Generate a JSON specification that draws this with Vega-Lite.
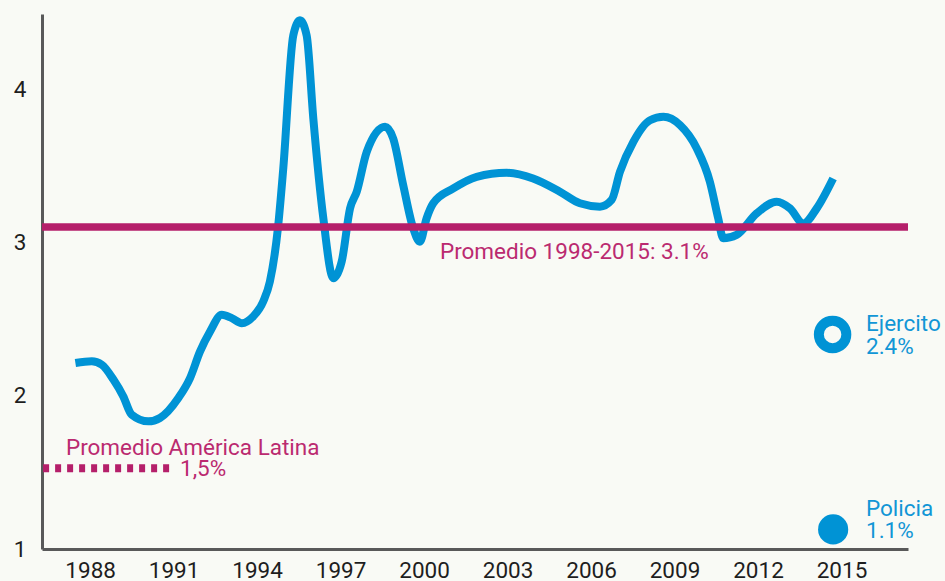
{
  "$schema": "https://vega.github.io/schema/vega-lite/v6.json",
  "width": 866,
  "height": 535,
  "autosize": {"type": "none"},
  "padding": {"left": 42, "top": 14, "right": 37, "bottom": 32},
  "background": "#f9faf5",
  "config": {
    "view": {"stroke": null},
    "font": "Roboto",
    "axis": {
      "domainColor": "#595959",
      "domainWidth": 3,
      "ticks": false,
      "grid": false,
      "labelFont": "Roboto",
      "labelFontSize": 22.5,
      "labelColor": "#1e1e1e",
      "title": null
    }
  },
  "datasets": {
    "serie": [
      {"anio": 1987.47, "valor": 2.213},
      {"anio": 1988.06, "valor": 2.224},
      {"anio": 1988.42, "valor": 2.202},
      {"anio": 1988.83, "valor": 2.107},
      {"anio": 1989.19, "valor": 1.996},
      {"anio": 1989.49, "valor": 1.877},
      {"anio": 1990.09, "valor": 1.833},
      {"anio": 1990.51, "valor": 1.855},
      {"anio": 1991.17, "valor": 1.985},
      {"anio": 1991.59, "valor": 2.115},
      {"anio": 1991.95, "valor": 2.289},
      {"anio": 1992.31, "valor": 2.419},
      {"anio": 1992.73, "valor": 2.528},
      {"anio": 1993.09, "valor": 2.506},
      {"anio": 1993.45, "valor": 2.473},
      {"anio": 1993.86, "valor": 2.517},
      {"anio": 1994.22, "valor": 2.615},
      {"anio": 1994.46, "valor": 2.745},
      {"anio": 1994.75, "valor": 3.096},
      {"anio": 1994.94, "valor": 3.482},
      {"anio": 1995.3, "valor": 4.351},
      {"anio": 1995.54, "valor": 4.449},
      {"anio": 1995.78, "valor": 4.351},
      {"anio": 1996.02, "valor": 3.808},
      {"anio": 1996.38, "valor": 3.157},
      {"anio": 1996.74, "valor": 2.766},
      {"anio": 1997.04, "valor": 2.875},
      {"anio": 1997.34, "valor": 3.222},
      {"anio": 1997.58, "valor": 3.331},
      {"anio": 1997.94, "valor": 3.591},
      {"anio": 1998.6, "valor": 3.754},
      {"anio": 1998.89, "valor": 3.678},
      {"anio": 1999.25, "valor": 3.374},
      {"anio": 1999.61, "valor": 3.092},
      {"anio": 1999.85, "valor": 3.005},
      {"anio": 2000.09, "valor": 3.157},
      {"anio": 2000.33, "valor": 3.255},
      {"anio": 2001.05, "valor": 3.352},
      {"anio": 2001.89, "valor": 3.428},
      {"anio": 2002.97, "valor": 3.454},
      {"anio": 2003.92, "valor": 3.417},
      {"anio": 2004.88, "valor": 3.331},
      {"anio": 2005.6, "valor": 3.255},
      {"anio": 2006.32, "valor": 3.233},
      {"anio": 2006.74, "valor": 3.277},
      {"anio": 2007.04, "valor": 3.461},
      {"anio": 2007.52, "valor": 3.656},
      {"anio": 2008.12, "valor": 3.797},
      {"anio": 2008.6, "valor": 3.819},
      {"anio": 2009.2, "valor": 3.765},
      {"anio": 2009.8, "valor": 3.613},
      {"anio": 2010.27, "valor": 3.396},
      {"anio": 2010.57, "valor": 3.157},
      {"anio": 2010.75, "valor": 3.027},
      {"anio": 2011.23, "valor": 3.049},
      {"anio": 2011.95, "valor": 3.189},
      {"anio": 2012.67, "valor": 3.266},
      {"anio": 2013.15, "valor": 3.222},
      {"anio": 2013.63, "valor": 3.124},
      {"anio": 2014.11, "valor": 3.222},
      {"anio": 2014.7, "valor": 3.417}
    ],
    "promedio": [
      {"anio": 1986.27, "anio_fin": 2017.39, "valor": 3.1}
    ],
    "latam": [
      {"anio": 1986.31, "anio_fin": 1990.98, "valor": 1.527}
    ],
    "notas_magenta": [
      {"anio": 2000.57, "valor": 2.894, "texto": "Promedio 1998-2015: 3.1%"},
      {"anio": 1987.13, "valor": 1.612, "texto": "Promedio América Latina"},
      {"anio": 1991.23, "valor": 1.475, "texto": "1,5%"}
    ],
    "notas_azul": [
      {"anio": 2015.88, "valor": 2.419, "texto": "Ejercito"},
      {"anio": 2015.88, "valor": 2.271, "texto": "2.4%"},
      {"anio": 2015.88, "valor": 1.215, "texto": "Policia"},
      {"anio": 2015.88, "valor": 1.072, "texto": "1.1%"}
    ],
    "ejercito": [{"anio": 2014.68, "valor": 2.4}],
    "policia": [{"anio": 2014.7, "valor": 1.128}]
  },
  "encoding": {
    "x": {
      "field": "anio",
      "type": "quantitative",
      "scale": {"domain": [1986.27, 2017.39], "nice": false, "zero": false},
      "axis": {"values": [1988, 1991, 1994, 1997, 2000, 2003, 2006, 2009, 2012, 2015], "format": "d", "labelPadding": 10}
    },
    "y": {
      "field": "valor",
      "type": "quantitative",
      "scale": {"domain": [1, 4.49], "nice": false, "zero": false},
      "axis": {"values": [1, 2, 3, 4], "labelPadding": 16}
    }
  },
  "layer": [
    {
      "data": {"name": "serie"},
      "mark": {"type": "line", "color": "#0093d5", "strokeWidth": 8, "interpolate": "monotone"}
    },
    {
      "data": {"name": "promedio"},
      "mark": {"type": "rule", "color": "#b51f6a", "strokeWidth": 7.5},
      "encoding": {"x2": {"field": "anio_fin"}}
    },
    {
      "data": {"name": "latam"},
      "mark": {"type": "rule", "color": "#b51f6a", "strokeWidth": 8, "strokeDash": [6, 6]},
      "encoding": {"x2": {"field": "anio_fin"}}
    },
    {
      "data": {"name": "notas_magenta"},
      "mark": {"type": "text", "align": "left", "baseline": "alphabetic", "font": "Roboto", "fontSize": 22.5, "color": "#bb2a70"},
      "encoding": {"text": {"field": "texto"}}
    },
    {
      "data": {"name": "notas_azul"},
      "mark": {"type": "text", "align": "left", "baseline": "alphabetic", "font": "Roboto", "fontSize": 22.5, "color": "#1196d6"},
      "encoding": {"text": {"field": "texto"}}
    },
    {
      "data": {"name": "ejercito"},
      "mark": {"type": "point", "shape": "circle", "filled": false, "size": 755, "strokeWidth": 10, "color": "#0093d5", "opacity": 1}
    },
    {
      "data": {"name": "policia"},
      "mark": {"type": "circle", "size": 908, "color": "#0093d5", "opacity": 1}
    }
  ]
}
